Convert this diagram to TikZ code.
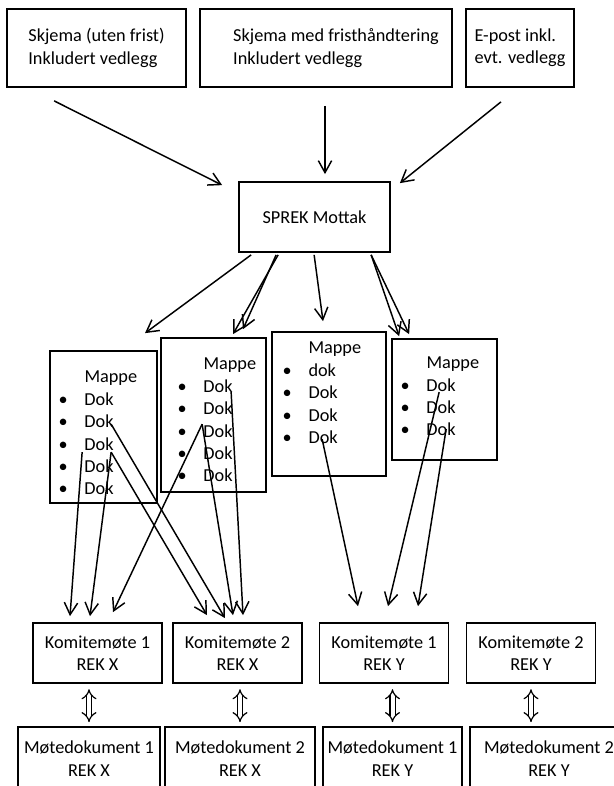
\documentclass[tikz,border=0pt]{standalone}
\usepackage{fontspec}
\setmainfont{Carlito}
\usetikzlibrary{arrows.meta, calc}

\newcommand{\dok}[1]{\makebox[19.5pt][l]{\textbullet}#1}
\newcommand{\mappe}{\makebox[19.5pt]{}Mappe}
\newcommand{\ned}[1]{\rule{0pt}{#1}}
\newcommand{\opp}[1]{\rule[-#1]{0pt}{#1}}

\begin{document}
\begin{tikzpicture}[
    x=0.75pt, y=-0.75pt,
    every node/.style={font=\fontsize{13.7}{16.8}\selectfont},
    box/.style={rectangle, draw, line width=1.3pt, align=center, inner sep=2pt},
    topbox/.style={box, align=left, minimum height=58.5pt},
    mappebox/.style={box, align=left},
    kombox/.style={box, minimum width=96.75pt, minimum height=45pt},
    motebox/.style={box, minimum height=47.25pt},
    arrow/.style={-{Straight Barb[length=9pt, width=10pt]}, line width=1.1pt},
    link/.style={{Implies[length=7pt, width=11pt]}-{Implies[length=7pt, width=11pt]}, double, double distance=3pt, line width=0.9pt, shorten <=4pt, shorten >=3pt}
]
\clip (0,0) rectangle (614,786);

% innsending
\node[topbox, minimum width=134.25pt] (skjema) at (96.5,48) {Skjema (uten frist)\\Inkludert vedlegg};
\node[topbox, minimum width=189pt] (fristskjema) at (326,48) {\hspace*{15pt}Skjema med fristhåndtering\\\hspace*{15pt}Inkludert vedlegg};
\node[topbox, minimum width=81pt] (epost) at (520,48) {E-post inkl.\\evt. vedlegg};

\node[box, minimum width=113.25pt, minimum height=52.5pt] (mottak) at (314.5,217) {SPREK Mottak};

% mapper
\node[mappebox, minimum width=80.25pt, minimum height=114pt, text width=67.5pt] (mappe1) at (103.5,427) {\ned{18pt}\mappe\\\dok{Dok}\\\dok{Dok}\\\dok{Dok}\\\dok{Dok}\\\dok{Dok}};
\node[mappebox, minimum width=78.75pt, minimum height=115.5pt, text width=54pt] (mappe2) at (213.5,415) {\ned{16.3pt}\mappe\\\dok{Dok}\\\dok{Dok}\\\dok{Dok}\\\dok{Dok}\\\dok{Dok}};
\node[mappebox, minimum width=85.5pt, minimum height=108pt, text width=69.7pt] (mappe3) at (329,404) {\mappe\\\dok{dok}\\\dok{Dok}\\\dok{Dok}\\\dok{Dok}\opp{16.7pt}};
\node[mappebox, minimum width=78.75pt, minimum height=90.75pt, text width=66pt] (mappe4) at (444.5,399.5) {\mappe\\\dok{Dok}\\\dok{Dok}\\\dok{Dok}\opp{4.7pt}};

% komitemøter
\node[kombox] (kom1x) at (97.5,653) {Komitemøte 1\\REK X};
\node[kombox] (kom2x) at (237.5,653) {Komitemøte 2\\REK X};
\node[kombox] (kom1y) at (384,653) {Komitemøte 1\\REK Y};
\node[kombox] (kom2y) at (531,653) {Komitemøte 2\\REK Y};

% møtedokumenter
\node[motebox, minimum width=106.5pt] (mote1x) at (89,758.5) {Møtedokument 1\\REK X};
\node[motebox, minimum width=112.5pt] (mote2x) at (240,758.5) {Møtedokument 2\\REK X};
\node[motebox, minimum width=104.25pt] (mote1y) at (392.5,758.5) {Møtedokument 1\\REK Y};
\node[motebox, minimum width=118.5pt] (mote2y) at (549,758.5) {Møtedokument 2\\REK Y};

% inn til mottak
\draw[arrow] ($(skjema.south west)+(48,13)$) -- ($(mottak.north west)+(-16,4)$);
\draw[arrow] ($(fristskjema.south)+(-1,18)$) -- ($(mottak.north)+(10.5,-7)$);
\draw[arrow] ($(epost.south)+(-19,14)$) -- ($(mottak.north east)+(9,2)$);

% mottak til mappene
\draw[arrow] ($(mottak.south west)+(13,2)$) -- ($(mappe1.north)+(41.5,-17)$);
\draw[arrow] ($(mottak.south west)+(40,2)$) -- ($(mappe2.north)+(19.5,-3)$);
\draw[arrow] ($(mottak.south west)+(38,2)$) -- ($(mappe2.north)+(29.5,-8)$);
\draw[arrow] ($(mottak.south west)+(76,2)$) -- ($(mappe3.north)+(-6,-10)$);
\draw[arrow] ($(mottak.south west)+(133,2)$) -- ($(mappe4.north west)+(8,-2)$);
\draw[arrow] ($(mottak.south west)+(133,2)$) -- ($(mappe4.north west)+(18,-4)$);

% dokumenter til komitemøtene
\draw[arrow] ($(mappe1.north west)+(33,102)$) -- ($(kom1x.north)+(-27.5,-6)$);
\draw[arrow] ($(mappe1.north west)+(62,102)$) -- ($(kom1x.north)+(-7.5,-6)$);
\draw[arrow] ($(mappe1.north west)+(62,102)$) -- ($(kom2x.north)+(-30.5,-7)$);
\draw[arrow] ($(mappe1.north west)+(62,74)$) -- ($(kom2x.north)+(-12.5,-4)$);
\draw[arrow] ($(mappe2.north west)+(42,87)$) -- ($(kom1x.north)+(15.5,-10)$);
\draw[arrow] ($(mappe2.north west)+(42,87)$) -- ($(kom2x.north)+(-4.5,-7)$);
\draw[arrow] ($(mappe2.north west)+(71,55)$) -- ($(kom2x.north)+(5.5,-7)$);
\draw[arrow] ($(mappe3.north west)+(51,108)$) -- ($(kom1y.north)+(-26,-16)$);
\draw[arrow] ($(mappe4.north west)+(48,54)$) -- ($(kom1y.north)+(4,-16)$);
\draw[arrow] ($(mappe4.north west)+(55,91)$) -- ($(kom1y.north)+(34,-16)$);

% komitemøte og møtedokument
\draw[link] (kom1x.south -| mote1x.north) -- (mote1x.north);
\draw[link] (kom2x.south -| mote2x.north) -- (mote2x.north);
\draw[link] (kom1y.south -| mote1y.north) -- (mote1y.north);
\draw[link] (kom2y.south) -- (kom2y.south |- mote2y.north);
\end{tikzpicture}
\end{document}
